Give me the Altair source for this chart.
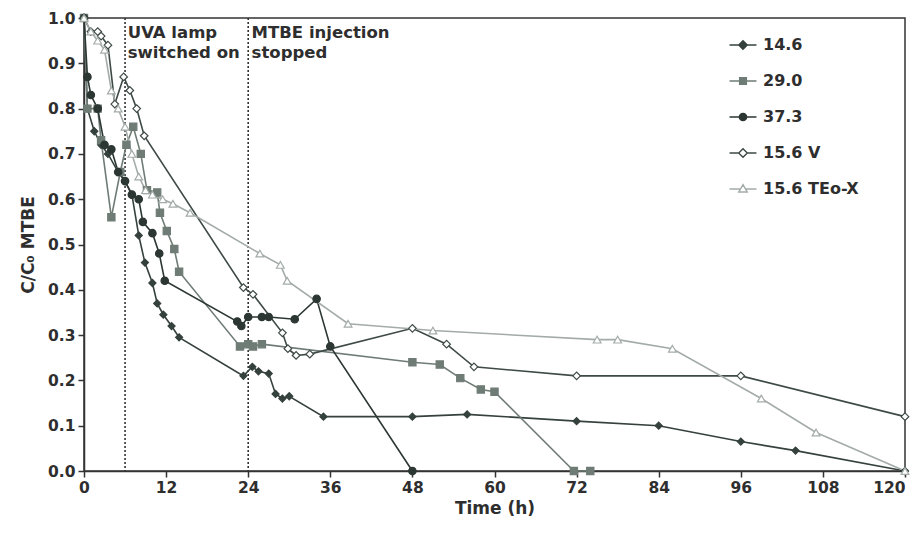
import altair as alt
import pandas as pd

series_names = ["14.6", "29.0", "37.3", "15.6 V", "15.6 TEo-X"]

t_146 = [0, 0.5, 1.5, 2.5, 3.5, 5, 6, 7, 8, 8.9, 10, 10.7, 11.6, 12.8, 13.9, 23.3, 24.6, 25.5, 27, 28, 29, 30, 35, 48, 56, 72, 84, 96, 104, 120]
v_146 = [1.0, 0.80, 0.75, 0.72, 0.70, 0.66, 0.64, 0.61, 0.52, 0.46, 0.415, 0.37, 0.345, 0.32, 0.295, 0.21, 0.23, 0.22, 0.215, 0.17, 0.16, 0.165, 0.12, 0.12, 0.125, 0.11, 0.10, 0.065, 0.045, 0.0]

t_290 = [0, 0.5, 2, 2.5, 4, 5.3, 6.2, 7.2, 8.3, 9.2, 10.7, 11.1, 12.1, 13.2, 13.9, 22.8, 24, 24.7, 26, 48, 52, 55, 58, 60, 71.6, 74]
v_290 = [1.0, 0.80, 0.80, 0.73, 0.56, 0.66, 0.72, 0.76, 0.70, 0.62, 0.615, 0.57, 0.53, 0.49, 0.44, 0.275, 0.28, 0.275, 0.28, 0.24, 0.235, 0.205, 0.18, 0.175, 0.0, 0.0]

t_373 = [0, 0.5, 1, 2, 3, 4, 5, 6, 7, 8, 8.6, 10, 11, 11.8, 22.4, 23, 24, 26, 27, 30.8, 34, 36, 48]
v_373 = [1.0, 0.87, 0.83, 0.80, 0.72, 0.71, 0.66, 0.64, 0.61, 0.60, 0.55, 0.525, 0.48, 0.42, 0.33, 0.32, 0.34, 0.34, 0.34, 0.335, 0.38, 0.275, 0.0]

t_156v = [0, 1, 2, 2.5, 3.5, 4.5, 5.8, 6.7, 7.7, 8.8, 23.3, 24.7, 29, 29.8, 31, 33, 48, 53, 57, 72, 96, 120]
v_156v = [1.0, 0.97, 0.97, 0.96, 0.94, 0.81, 0.87, 0.84, 0.80, 0.74, 0.405, 0.39, 0.305, 0.27, 0.255, 0.258, 0.315, 0.28, 0.23, 0.21, 0.21, 0.12]

t_teo = [0, 1, 2, 3, 4, 5, 6, 7, 8, 9, 10, 11.5, 13, 15.5, 25.7, 28.7, 29.7, 38.6, 51, 75, 78, 86, 99, 107, 120]
v_teo = [1.0, 0.97, 0.95, 0.93, 0.84, 0.80, 0.76, 0.70, 0.65, 0.62, 0.61, 0.60, 0.59, 0.57, 0.48, 0.455, 0.42, 0.325, 0.31, 0.29, 0.29, 0.27, 0.16, 0.085, 0.0]

event_t = [6, 24]
ann_t = [6.4, 6.4, 24.5, 24.5]
ann_v = [0.956, 0.912, 0.956, 0.912]
ann_text = ["UVA lamp", "switched on", "MTBE injection", "stopped"]

x_ticks = list(range(0, 121, 12))
y_ticks = [i / 10 for i in range(11)]

rows = []
for name, ts, vs in zip(series_names, [t_146, t_290, t_373, t_156v, t_teo],
                        [v_146, v_290, v_373, v_156v, v_teo]):
    for t, v in zip(ts, vs):
        rows.append({"series": name, "t": t, "v": v})
df = pd.DataFrame(rows)

line_colors = ["#35413c", "#6f7c76", "#2c3733", "#3e4a45", "#a4aca8"]
fill_colors = ["#35413c", "#6f7c76", "#2c3733", "#ffffff", "#ffffff"]
shapes = ["diamond", "square", "circle", "diamond", "triangle-up"]
marker_sizes = [50, 60, 70, 55, 60]
legend_paths = [
    "M-2.2,0H-0.7M0.7,0H2.2M0,-0.7L0.7,0L0,0.7L-0.7,0Z",
    "M-2.2,0H-0.55M0.55,0H2.2M-0.55,-0.55H0.55V0.55H-0.55Z",
    "M-2.2,0H-0.6M0.6,0H2.2M-0.6,0A0.6,0.6 0 1,0 0.6,0A0.6,0.6 0 1,0 -0.6,0Z",
    "M-2.2,0H-0.7M0.7,0H2.2M0,-0.7L0.7,0L0,0.7L-0.7,0Z",
    "M-2.2,0H-0.42M0.42,0H2.2M0,-0.7L0.7,0.5L-0.7,0.5Z",
]

FONT = "DejaVu Sans"
TXT = "#2e2e2e"

x_enc = alt.X("t:Q", scale=alt.Scale(domain=[0, 120], nice=False),
              axis=alt.Axis(values=x_ticks, title="Time (h)",
                            labelAlign=alt.condition("datum.value >= 120", alt.value("right"), alt.value("center"))))
y_enc = alt.Y("v:Q", scale=alt.Scale(domain=[0, 1], nice=False),
              axis=alt.Axis(values=y_ticks, format=".1f", title="C/C₀ MTBE"))

color_scale = alt.Scale(domain=series_names, range=line_colors)
fill_scale = alt.Scale(domain=series_names, range=fill_colors)

lines = alt.Chart(df).mark_line(strokeWidth=1.6).encode(
    x=x_enc, y=y_enc,
    color=alt.Color("series:N", scale=color_scale, legend=None),
)

points = alt.Chart(df).mark_point(filled=False, opacity=1, strokeWidth=1.2).encode(
    x=x_enc, y=y_enc,
    color=alt.Color("series:N", scale=color_scale, legend=None),
    fill=alt.Fill("series:N", scale=fill_scale, legend=None),
    shape=alt.Shape("series:N", scale=alt.Scale(domain=series_names, range=shapes), legend=None),
    size=alt.Size("series:O", scale=alt.Scale(domain=series_names, range=marker_sizes), legend=None),
)

leg = alt.Legend(title=None, orient="none", legendX=651, legendY=19,
                 symbolSize=150, symbolStrokeWidth=1.4, labelOffset=12,
                 rowPadding=20, labelFont=FONT, labelFontSize=16,
                 labelFontWeight="bold", labelColor=TXT, padding=0)

legend_layer = alt.Chart(df).transform_filter("datum.t < -1").mark_point(
    filled=False, opacity=1, strokeWidth=1.4, size=150).encode(
    x=x_enc, y=y_enc,
    color=alt.Color("series:N", scale=color_scale, legend=leg),
    fill=alt.Fill("series:N", scale=fill_scale, legend=leg),
    shape=alt.Shape("series:N", scale=alt.Scale(domain=series_names, range=legend_paths), legend=leg),
)

rules = alt.Chart(pd.DataFrame({"t": event_t})).mark_rule(
    strokeDash=[2, 2], color="#333333", strokeWidth=1.6).encode(x=alt.X("t:Q"))

texts = alt.Chart(pd.DataFrame({"t": ann_t, "v": ann_v, "label": ann_text})).mark_text(
    align="left", baseline="alphabetic", font=FONT, fontSize=16.5, fontWeight="bold", color=TXT
).encode(x="t:Q", y="v:Q", text="label:N")

chart = alt.layer(rules, lines, points, texts, legend_layer).resolve_scale(
    color="independent", fill="independent", shape="independent", size="independent"
).properties(
    width=821, height=453,
    autosize=alt.AutoSizeParams(type="none"),
    padding={"left": 76, "top": 10, "right": 10, "bottom": 55},
    background="white",
).configure_view(
    stroke="#333333", strokeWidth=1.5
).configure_axis(
    grid=False, domainColor="#333333", domainWidth=1.5, tickColor="#333333",
    tickWidth=1.5, tickSize=6, labelFont=FONT, labelFontSize=15.5, labelFontWeight="bold",
    labelColor=TXT, titleFont=FONT, titleFontSize=17, titleFontWeight="bold",
    titleColor=TXT, labelPadding=3
).configure_axisY(titlePadding=10).configure_axisX(titlePadding=5, labelFlush=False)

chart.save("out.html", embed_options={"renderer": "svg", "actions": False})
